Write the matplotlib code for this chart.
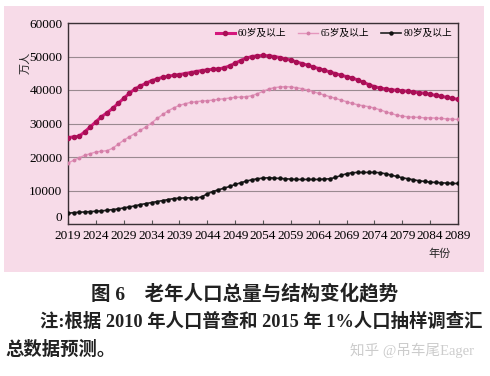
import matplotlib
matplotlib.use('Agg')
import matplotlib.pyplot as plt
from matplotlib.patches import Rectangle

plt.rcParams['font.family'] = ['Liberation Serif', 'Noto Sans CJK SC', 'DejaVu Sans']

# -----------------------------
# Data (万人)
# -----------------------------
years = list(range(2019, 2090))

age60 = [25800, 26000, 26200, 27500, 29000, 30500, 32000, 33200, 34500, 36000,
         37500, 39000, 40300, 41200, 42000, 42800, 43300, 43800, 44100, 44400,
         44600, 44900, 45200, 45500, 45800, 46000, 46200, 46300, 46600, 47200,
         48000, 48800, 49500, 50000, 50200, 50300, 50200, 50000, 49700, 49300,
         48900, 48400, 47900, 47400, 46900, 46400, 45900, 45400, 44900, 44400,
         44000, 43600, 43000, 42300, 41600, 41000, 40600, 40300, 40100, 39900,
         39800, 39600, 39400, 39200, 39000, 38700, 38400, 38100, 37800, 37500,
         37200]

age65 = [18200, 19000, 19800, 20500, 21000, 21500, 21700, 21900, 22600, 23800,
         25000, 26000, 27000, 28000, 29000, 30200, 31500, 32700, 33800, 34700,
         35400, 35900, 36300, 36500, 36700, 36800, 37000, 37200, 37400, 37600,
         37800, 37900, 38000, 38300, 38900, 39600, 40300, 40700, 40900, 41000,
         40900, 40700, 40400, 40000, 39500, 39000, 38500, 38000, 37500, 37000,
         36500, 36000, 35600, 35300, 35000, 34600, 34100, 33500, 33000, 32500,
         32200, 32000, 31900, 31800, 31700, 31700, 31600, 31500, 31400, 31300,
         31200]

age80 = [3200, 3400, 3500, 3600, 3700, 3800, 3900, 4100, 4300, 4500,
         4800, 5100, 5400, 5800, 6100, 6400, 6700, 7000, 7300, 7600,
         7700, 7800, 7800, 7700, 8100, 9000, 9700, 10200, 10700, 11200,
         11800, 12300, 12800, 13200, 13500, 13700, 13800, 13700, 13600, 13500,
         13400, 13300, 13300, 13300, 13300, 13300, 13400, 13500, 13900, 14500,
         15000, 15300, 15400, 15400, 15400, 15400, 15300, 15000, 14600, 14200,
         13800, 13500, 13200, 12900, 12700, 12500, 12400, 12300, 12200, 12100,
         12100]

tick_years = list(range(2019, 2090, 5))
y_ticks = [0, 10000, 20000, 30000, 40000, 50000, 60000]

# -----------------------------
# Figure
# -----------------------------
fig = plt.figure(figsize=(4.9, 3.76), dpi=100)
bg = Rectangle((4 / 490, 1 - 272 / 376), 480 / 490, 266 / 376,
               transform=fig.transFigure, facecolor='#f7dbe8',
               edgecolor='none', zorder=-10)
fig.patches.append(bg)

ax = fig.add_axes([68 / 490, 1 - 224 / 376, 390 / 490, 201 / 376])
ax.set_facecolor('#f7dbe8')

ax.plot(years, age60, color='#d4177c', lw=2.2, marker='o', ms=3,
        mfc='#a80f55', mec='#a80f55', label='60岁及以上', zorder=4)
ax.plot(years, age65, color='#e596bd', lw=1.0, marker='o', ms=1.8,
        mfc='#d47fa8', mec='#d47fa8', label='65岁及以上', zorder=3)
ax.plot(years, age80, color='#222222', lw=1.2, marker='o', ms=2.2,
        mfc='#111111', mec='#111111', label='80岁及以上', zorder=3)

ax.set_xlim(2019, 2089)
ax.set_ylim(0, 60000)
ax.set_xticks(tick_years)
ax.set_xticklabels([str(y) for y in tick_years], fontsize=9.5)
ax.set_yticks(y_ticks)
ax.set_yticklabels([str(v) for v in y_ticks], fontsize=9.5)
ax.tick_params(axis='x', direction='in', length=3, color='#555555', pad=4)
ax.tick_params(axis='y', length=0, pad=4)
ax.get_yticklabels()[0].set_va('bottom')
ax.yaxis.grid(True, color='#9a8a90', lw=0.8)
ax.set_axisbelow(True)
for s in ax.spines.values():
    s.set_color('#3a3035')
    s.set_linewidth(1.0)

ax.legend(loc='upper right', ncol=3, frameon=False, fontsize=7,
          handlelength=2.0, handletextpad=0.3, columnspacing=1.2,
          borderaxespad=0.2, bbox_to_anchor=(1.0, 1.0))

fig.text(25 / 490, 1 - 63 / 376, '万人', rotation=90, fontsize=8,
         ha='center', va='center', color='#222222')
fig.text(440 / 490, 1 - 254 / 376, '年份', fontsize=8, ha='center',
         va='center', color='#222222')

# caption and note
fig.text(245 / 490, 1 - 293 / 376, '图 6    老年人口总量与结构变化趋势',
         fontsize=14, fontweight='bold', ha='center', va='center',
         color='#222222')
fig.text(40 / 490, 1 - 322 / 376,
         '注:根据 2010 年人口普查和 2015 年 1%人口抽样调查汇',
         fontsize=13.2, fontweight='bold', ha='left', va='center',
         color='#222222')
fig.text(5 / 490, 1 - 350 / 376, '总数据预测。', fontsize=13.2,
         fontweight='bold', ha='left', va='center', color='#222222')
fig.text(350 / 490, 1 - 350 / 376, '知乎 @吊车尾Eager', fontsize=10.5,
         ha='left', va='center', color='#cccccc')

fig.savefig('out.png', dpi=100)
plt.close(fig)
